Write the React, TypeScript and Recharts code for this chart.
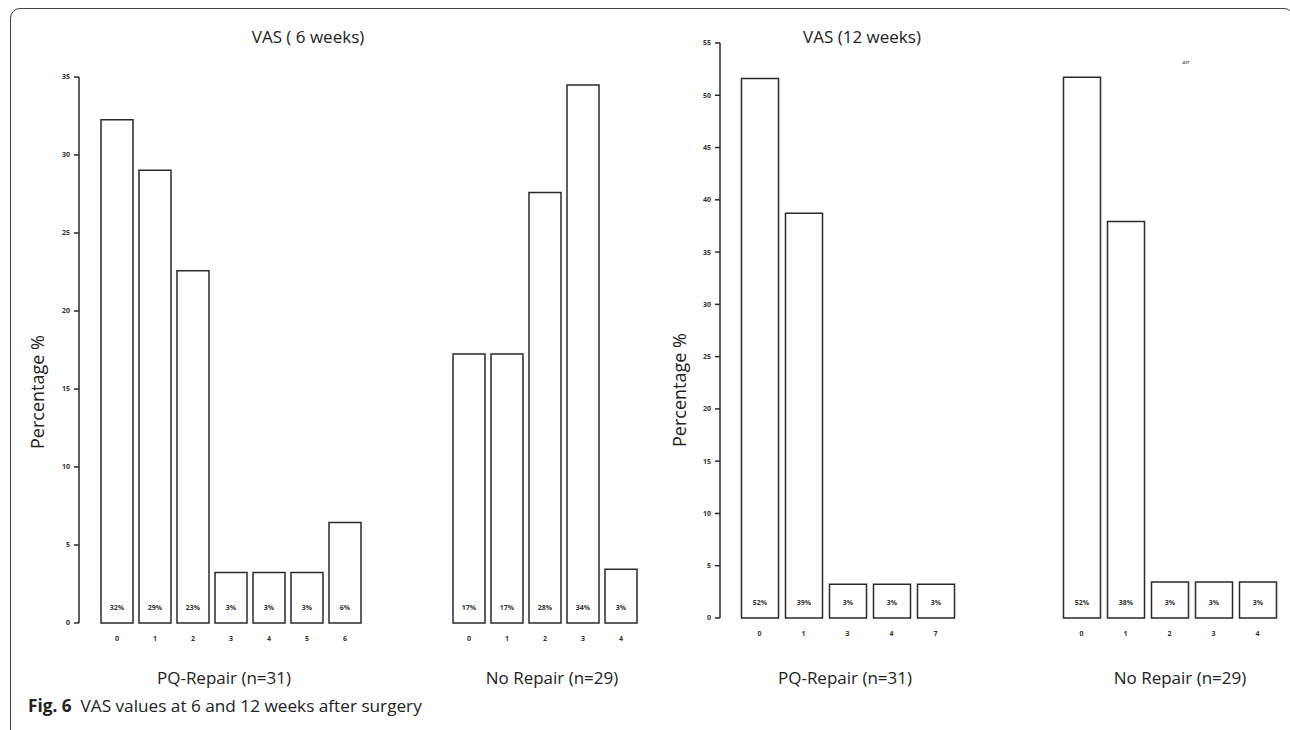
import { Bar, BarChart, LabelList, XAxis, YAxis } from "recharts";

// VAS 6 weeks
const cats6PQ = ["0", "1", "2", "3", "4", "5", "6"];
const vals6PQ = [32.26, 29.03, 22.58, 3.23, 3.23, 3.23, 6.45];
const cats6No = ["0", "1", "2", "3", "4"];
const vals6No = [17.24, 17.24, 27.59, 34.48, 3.45];
const ticks6 = [0, 5, 10, 15, 20, 25, 30, 35];

// VAS 12 weeks
const cats12PQ = ["0", "1", "3", "4", "7"];
const vals12PQ = [51.61, 38.71, 3.23, 3.23, 3.23];
const cats12No = ["0", "1", "2", "3", "4"];
const vals12No = [51.72, 37.93, 3.45, 3.45, 3.45];
const ticks12 = [0, 5, 10, 15, 20, 25, 30, 35, 40, 45, 50, 55];

const W = 1290;
const H = 730;
const INK = "#2a2a2a";
const FONT = "'Open Sans', sans-serif";
const SMALL = { fontSize: 7, fill: "#333", fontWeight: 700, fontFamily: FONT };

interface PanelProps {
	cats: string[];
	values: number[];
	ticks: number[];
	showAxis: boolean;
	axisX: number; // x of the y axis line
	bandStart: number;
	bandEnd: number;
	top: number;
	bottom: number;
	barSize: number;
}

function pctLabel(props: any) {
	const { x, y, width, height, value } = props;
	return (
		<text
			x={x + width / 2}
			y={y + height - 16}
			textAnchor="middle"
			dominantBaseline="central"
			{...SMALL}
		>
			{`${Math.round(value)}%`}
		</text>
	);
}

function Panel({
	cats,
	values,
	ticks,
	showAxis,
	axisX,
	bandStart,
	bandEnd,
	top,
	bottom,
	barSize,
}: PanelProps) {
	const data = cats.map((c, i) => ({ cat: c, value: values[i] }));
	const axisW = 60;
	const xAxisH = 30;
	return (
		<BarChart
			width={W}
			height={H}
			data={data}
			barSize={barSize}
			style={{ position: "absolute", left: 0, top: 0 }}
			margin={{
				top,
				bottom: H - bottom - xAxisH,
				left: showAxis ? axisX - axisW : bandStart,
				right: W - bandEnd,
			}}
		>
			<XAxis
				dataKey="cat"
				interval={0}
				height={xAxisH}
				axisLine={false}
				tickLine={false}
				tickSize={0}
				tickMargin={13}
				padding={{ left: showAxis ? bandStart - axisX : 0, right: 0 }}
				tick={SMALL}
			/>
			<YAxis
				hide={!showAxis}
				width={axisW}
				domain={[0, ticks[ticks.length - 1]]}
				ticks={ticks}
				interval={0}
				tickSize={5}
				tickMargin={4}
				axisLine={{ stroke: INK, strokeWidth: 1.5 }}
				tickLine={{ stroke: INK, strokeWidth: 1.5 }}
				tick={SMALL}
			/>
			<Bar
				dataKey="value"
				fill="#fff"
				stroke={INK}
				strokeWidth={1.5}
				isAnimationActive={false}
			>
				<LabelList dataKey="value" content={pctLabel} />
			</Bar>
		</BarChart>
	);
}

function Label({
	x,
	y,
	text,
	size = 17,
	rotate = false,
}: {
	x: number;
	y: number;
	text: string;
	size?: number;
	rotate?: boolean;
}) {
	return (
		<div
			style={{
				position: "absolute",
				left: x,
				top: y,
				transform: `translate(-50%, -50%)${rotate ? " rotate(-90deg)" : ""}`,
				fontFamily: FONT,
				fontSize: size,
				color: "#222",
				whiteSpace: "nowrap",
			}}
		>
			{text}
		</div>
	);
}

export default function App() {
	return (
		<div
			style={{
				position: "absolute",
				left: 0,
				top: 0,
				width: W,
				height: H,
				overflow: "hidden",
				background: "#fff",
			}}
		>
			<div
				style={{
					position: "absolute",
					left: 10,
					top: 8,
					width: 1282,
					height: 730,
					border: "1.5px solid #444",
					borderRadius: 10,
				}}
			/>
			<Panel
				cats={cats6PQ}
				values={vals6PQ}
				ticks={ticks6}
				showAxis
				axisX={79}
				bandStart={98}
				bandEnd={364}
				top={77}
				bottom={623}
				barSize={32}
			/>
			<Panel
				cats={cats6No}
				values={vals6No}
				ticks={ticks6}
				showAxis={false}
				axisX={0}
				bandStart={450}
				bandEnd={640}
				top={77}
				bottom={623}
				barSize={32}
			/>
			<Panel
				cats={cats12PQ}
				values={vals12PQ}
				ticks={ticks12}
				showAxis
				axisX={720}
				bandStart={737.5}
				bandEnd={957.5}
				top={43}
				bottom={618}
				barSize={37}
			/>
			<Panel
				cats={cats12No}
				values={vals12No}
				ticks={ticks12}
				showAxis={false}
				axisX={0}
				bandStart={1059.5}
				bandEnd={1279.5}
				top={43}
				bottom={618}
				barSize={37}
			/>

			<Label x={308} y={36} text="VAS ( 6 weeks)" />
			<Label x={862} y={36} text="VAS (12 weeks)" />
			<Label x={37} y={392} text="Percentage %" size={18} rotate />
			<Label x={679} y={390} text="Percentage %" size={18} rotate />
			<Label x={224} y={677} text="PQ-Repair (n=31)" />
			<Label x={552} y={677} text="No Repair (n=29)" />
			<Label x={845} y={677} text="PQ-Repair (n=31)" />
			<Label x={1180} y={677} text="No Repair (n=29)" />
			<Label x={1186} y={62} text="air" size={6} />

			<div
				style={{
					position: "absolute",
					left: 28,
					top: 694,
					fontFamily: "'Open Sans', sans-serif",
					fontSize: 17.2,
					color: "#222",
					whiteSpace: "nowrap",
				}}
			>
				<b>Fig. 6</b>&nbsp; VAS values at 6 and 12 weeks after surgery
			</div>
		</div>
	);
}
